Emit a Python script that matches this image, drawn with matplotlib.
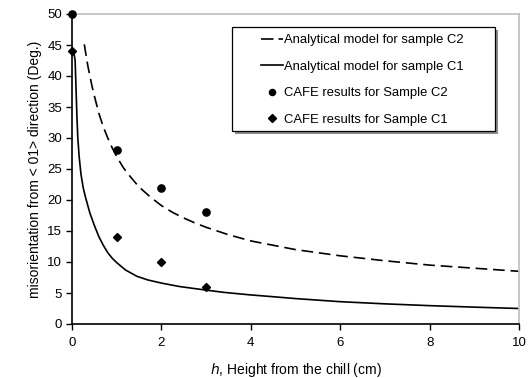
import matplotlib
matplotlib.use("Agg")
import matplotlib.pyplot as plt
from matplotlib.patches import Rectangle
from matplotlib.lines import Line2D

plt.rcParams['font.family'] = ['Liberation Sans', 'DejaVu Sans']

# CAFE results (markers)
h_pts = [0, 1, 2, 3]
cafe_c2 = [50, 28, 22, 18]
cafe_c1 = [44, 14, 10, 6]

# Analytical model curves
model_c2_h = [0.275, 0.3, 0.35, 0.4, 0.45, 0.5, 0.6, 0.7, 0.8, 0.9, 1.0, 1.15, 1.3, 1.5, 1.75,
              2.0, 2.25, 2.5, 2.75, 3.0, 3.5, 4.0, 4.5, 5.0, 5.5, 6.0, 7.0, 8.0, 9.0, 10.0]
model_c2_y = [45.1, 44.0, 41.8, 40.0, 38.3, 36.8, 34.0, 31.8, 30.0, 28.4, 27.0, 25.2, 23.8, 22.1, 20.5,
              19.1, 18.0, 17.1, 16.3, 15.6, 14.4, 13.4, 12.7, 12.0, 11.5, 11.0, 10.2, 9.5, 9.0, 8.5]

model_c1_h = [0.0, 0.04, 0.07, 0.09, 0.11, 0.13, 0.16, 0.2, 0.25, 0.3, 0.35, 0.4, 0.5, 0.6, 0.7,
              0.8, 0.9, 1.0, 1.2, 1.45, 1.7, 2.0, 2.4, 2.86, 3.4, 3.98, 4.5, 5.0, 5.5, 6.0,
              7.0, 8.0, 9.0, 10.0]
model_c1_y = [44.0, 43.8, 42.5, 38.0, 33.5, 30.0, 27.0, 24.2, 22.0, 20.5, 19.2, 17.9, 15.9, 14.1, 12.7,
              11.5, 10.6, 9.9, 8.7, 7.7, 7.1, 6.6, 6.05, 5.6, 5.1, 4.7, 4.4, 4.1, 3.85, 3.6,
              3.25, 2.96, 2.72, 2.5]

legend_labels = ["Analytical model for sample C2", "Analytical model for sample C1",
                 "CAFE results for Sample C2", "CAFE results for Sample C1"]
x_ticks = [0, 2, 4, 6, 8, 10]
y_ticks = [0, 5, 10, 15, 20, 25, 30, 35, 40, 45, 50]

W, H = 531, 378
fig = plt.figure(figsize=(W / 100, H / 100), dpi=100)
ax = fig.add_axes([72 / W, 1 - 324 / H, (519 - 72) / W, (324 - 14) / H])

ax.plot(model_c2_h, model_c2_y, color='black', lw=1.2, ls=(0, (7, 3.5)))
ax.plot(model_c1_h, model_c1_y, color='black', lw=1.2, ls='-')
ax.plot(h_pts, cafe_c2, ls='none', marker='o', ms=5.2, color='black', clip_on=False, zorder=5)
ax.plot(h_pts, cafe_c1, ls='none', marker='D', ms=4.5, color='black', clip_on=False, zorder=5)

ax.set_xlim(0, 10)
ax.set_ylim(0, 50)
ax.set_xticks(x_ticks)
ax.set_yticks(y_ticks)
for s in ['top', 'right']:
    ax.spines[s].set_color('#bdbdbd')
    ax.spines[s].set_linewidth(1.2)
for s in ['left', 'bottom']:
    ax.spines[s].set_color('black')
    ax.spines[s].set_linewidth(1.2)
ax.tick_params(axis='both', direction='out', length=4, width=1.0, labelsize=9.5, colors='black')
ax.tick_params(axis='x', pad=5)
ax.tick_params(axis='y', pad=3)

ax.set_xlabel(r"$\it{h}$, Height from the chill (cm)", fontsize=10, labelpad=9)
ax.set_ylabel("misorientation from < 01> direction (Deg.)", fontsize=10, labelpad=4)

# legend box with shadow (drawn inside the axes so the legend text stays on top)
bx0, by0, bx1, by1 = 232, 27, 495, 131
shadow = Rectangle(((bx0 + 3) / W, 1 - (by1 + 3) / H), (bx1 - bx0) / W, (by1 - by0) / H,
                   transform=fig.transFigure, facecolor='#8c8c8c', edgecolor='none',
                   zorder=6, clip_on=False)
box = Rectangle((bx0 / W, 1 - by1 / H), (bx1 - bx0) / W, (by1 - by0) / H,
                transform=fig.transFigure, facecolor='white', edgecolor='black', lw=0.9,
                zorder=7, clip_on=False)
ax.add_patch(shadow)
ax.add_patch(box)

handles = [
    Line2D([], [], color='black', lw=1.2, ls=(0, (7.5, 3.0))),
    Line2D([], [], color='black', lw=1.2, ls='-'),
    Line2D([], [], color='black', ls='none', marker='o', ms=4.4),
    Line2D([], [], color='black', ls='none', marker='D', ms=3.8),
]
leg = ax.legend(handles, legend_labels, loc='upper left', bbox_to_anchor=(261 / W, 1 - 34 / H),
                bbox_transform=fig.transFigure,
                fontsize=9.4, frameon=False, handlelength=1.68, handletextpad=0.1,
                labelspacing=1.1, borderpad=0, borderaxespad=0)
leg.set_zorder(10)

fig.savefig("out.png", dpi=100)
